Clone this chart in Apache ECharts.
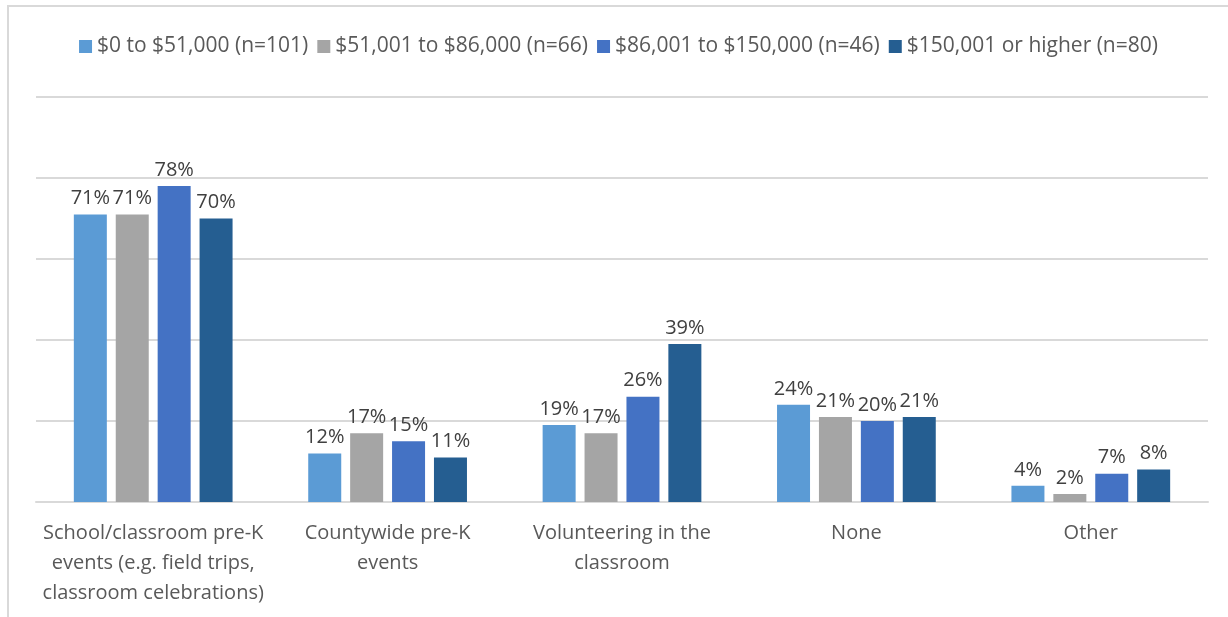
<!DOCTYPE html>
<html>
<head>
<meta charset="utf-8">
<title>Pre-K involvement by income</title>
<style>
html, body { margin:0; padding:0; width:100%; height:100%; background:#fff; }
#main { position:absolute; left:7px; top:5px; width:1221px; height:612px;
        border-left:2px solid #d9d9d9; border-top:2px solid #d9d9d9; box-sizing:border-box; }
</style>
</head>
<body>
<div id="main"></div>
<script src="https://cdn.jsdelivr.net/npm/echarts@6/dist/echarts.min.js"></script>
<script>
var categories = [
  'School/classroom pre-K\nevents (e.g. field trips,\nclassroom celebrations)',
  'Countywide pre-K\nevents',
  'Volunteering in the\nclassroom',
  'None',
  'Other'
];
var seriesNames = ['$0 to $51,000 (n=101)', '$51,001 to $86,000 (n=66)', '$86,001 to $150,000 (n=46)', '$150,001 or higher (n=80)'];
var low   = [71, 12, 19, 24, 4];
var mid   = [71, 17, 17, 21, 2];
var upper = [78, 15, 26, 20, 7];
var high  = [70, 11, 39, 21, 8];
var colors = ['#5B9BD5', '#A5A5A5', '#4472C4', '#255E91'];

var myChart = echarts.init(document.getElementById('main'));
var font = 'Open Sans, Lato, sans-serif';

function makeSeries(name, data, i) {
  return {
    name: name, type: 'bar', data: data,
    barWidth: 33, barGap: '27%',
    itemStyle: { color: colors[i] },
    label: { show: true, position: 'top', distance: 6, formatter: '{c}%',
             color: '#404040', fontSize: 20, fontFamily: font }
  };
}

myChart.setOption({
  animation: false,
  color: colors,
  legend: {
    top: 24, left: 'center',
    itemWidth: 13, itemHeight: 13, itemGap: 9, icon: 'rect',
    textStyle: { color: '#595959', fontSize: 21, fontFamily: font }
  },
  grid: { left: 27, right: 20, top: 90, bottom: 115 },
  xAxis: {
    type: 'category', data: categories,
    axisLine: { lineStyle: { color: '#d9d9d9', width: 2 } },
    axisTick: { show: false },
    axisLabel: { color: '#595959', fontSize: 20, fontFamily: font, lineHeight: 30, margin: 16, interval: 0 }
  },
  yAxis: {
    type: 'value', min: 0, max: 100, interval: 20,
    axisLabel: { show: false },
    axisLine: { show: false }, axisTick: { show: false },
    splitLine: { lineStyle: { color: '#d9d9d9', width: 2 } }
  },
  series: [
    makeSeries(seriesNames[0], low, 0),
    makeSeries(seriesNames[1], mid, 1),
    makeSeries(seriesNames[2], upper, 2),
    makeSeries(seriesNames[3], high, 3)
  ]
});
</script>
</body>
</html>
